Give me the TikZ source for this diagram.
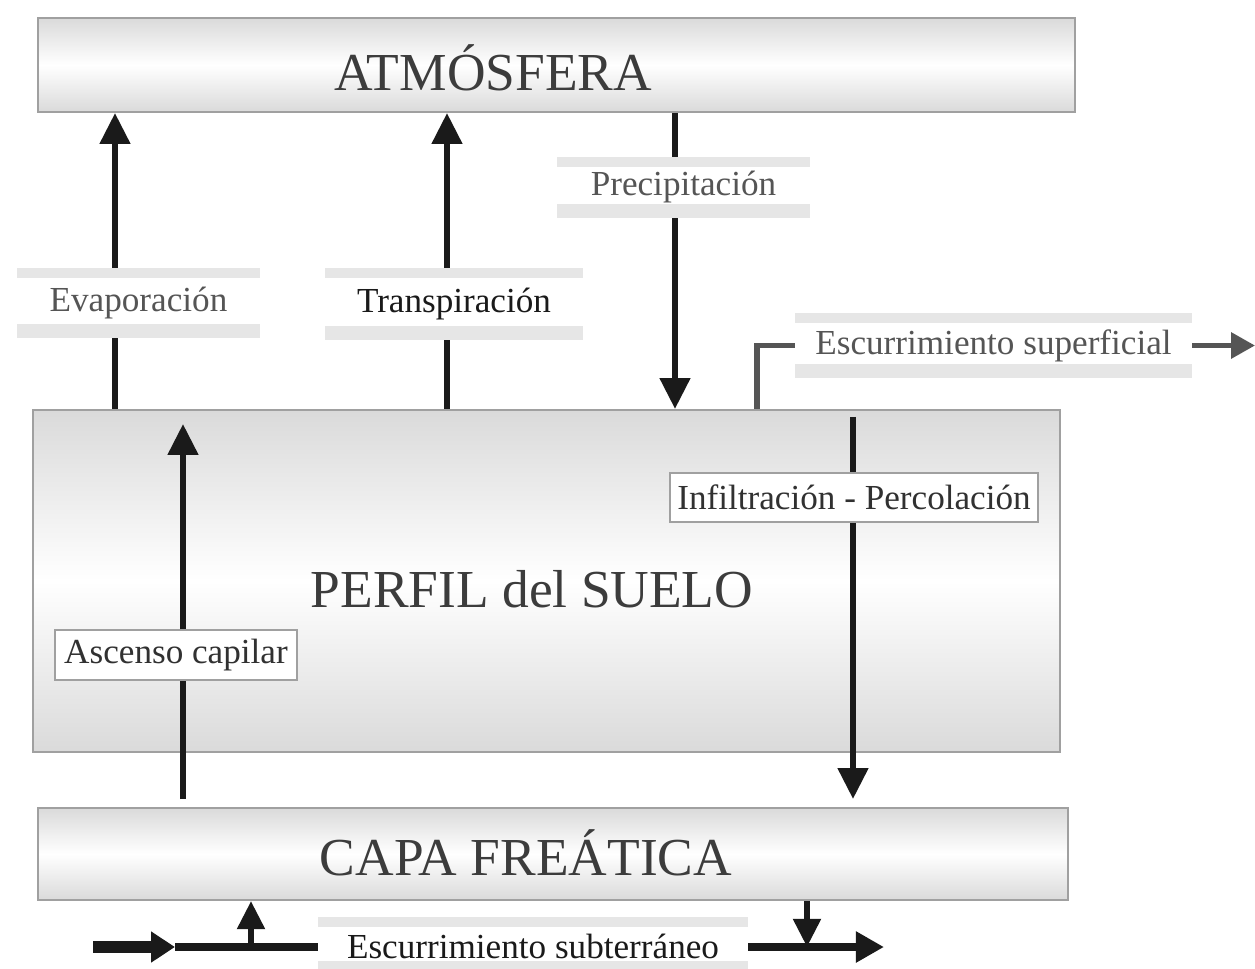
\documentclass[tikz,border=0pt]{standalone}
\usepackage{fontspec}
\setmainfont{Liberation Serif}
\usepackage{tikz}
\usepackage{xcolor}
\usetikzlibrary{arrows.meta,positioning,calc}
\definecolor{ink}     {HTML}{1A1A1A}
\definecolor{inkgray} {HTML}{555555}
\definecolor{rim}     {HTML}{A0A0A0}
\definecolor{shade}   {HTML}{DADADA}
\definecolor{stripe}  {HTML}{E6E6E6}
\tikzset{
  layer/.style    ={draw=rim, line width=1.4pt, top color=shade,
                    bottom color=shade, middle color=white, inner sep=0pt},
  title/.style    ={font=\fontsize{38}{40}\selectfont, text=ink!85},
  band/.style     ={fill=white, inner sep=0pt, font=\fontsize{25}{28}\selectfont,
                    path picture={
                      \fill[stripe] (path picture bounding box.north west)
                        rectangle ([yshift=-0.25cm]path picture bounding box.north east);
                      \fill[stripe] (path picture bounding box.south west)
                        rectangle ([yshift=0.35cm]path picture bounding box.south east);}},
  tag/.style      ={draw=rim, fill=white, line width=1.2pt, inner sep=0pt,
                    font=\fontsize{25}{28}\selectfont, text=ink!90},
  flow/.style     ={-{Triangle[length=22pt,width=21pt]}, line width=4.3pt, color=ink},
  flowline/.style ={line width=4.3pt, color=ink},
  gflow/.style    ={line width=3.6pt, color=inkgray},
  fat/.style      ={-{Triangle[length=17pt,width=21pt]}, line width=9pt, color=ink},
}
\begin{document}
\begin{tikzpicture}[x=0.025cm,y=-0.025cm]
  \useasboundingbox[fill=white] (0,0) rectangle (1255,968);

  % main layers
  \node[layer,minimum width=25.925cm,minimum height=2.35cm] (atm) at (556.5,65) {};
  \node[title,anchor=base] (atmtxt) at (493,90) {ATMÓSFERA};
  \node[layer,minimum width=25.675cm,minimum height=8.55cm] (perf) at (546.5,581) {};
  \node[title,anchor=base] (perftxt) at (532,607) {PERFIL del SUELO};
  \node[layer,minimum width=25.75cm,minimum height=2.3cm] (cap) at (553,854) {};
  \node[title,anchor=base] (captxt) at (526,875) {CAPA FREÁTICA};

  % flow labels
  \node[band,minimum width=6.075cm,minimum height=1.75cm,text=inkgray] (evap) at (138.5,303) {Evaporación};
  \node[band,minimum width=6.45cm,minimum height=1.8cm,text=ink] (trans) at (454,304) {Transpiración};
  \node[band,minimum width=6.325cm,minimum height=1.525cm,text=inkgray] (prec) at (683.5,187.5) {Precipitación};
  \node[band,minimum width=9.925cm,minimum height=1.625cm,text=inkgray] (esup) at (993.5,345.5) {Escurrimiento superficial};
  \node[band,minimum width=10.75cm,minimum height=1.45cm,text=ink] (esub) at (533,946) {Escurrimiento subterráneo};
  \node[tag,minimum width=9.2cm,minimum height=1.225cm] (infil) at (854,497.5) {Infiltración - Percolación};
  \node[tag,minimum width=6.05cm,minimum height=1.25cm] (asc) at (176,655) {Ascenso capilar};

  % x positions of the flows
  \coordinate (xev) at (115,0);
  \coordinate (xtr) at (447,0);
  \coordinate (xpr) at (675,0);
  \coordinate (xsu) at (757,0);
  \coordinate (xin) at (853,0);
  \coordinate (xas) at (183,0);
  \coordinate (xup) at (251,0);
  \coordinate (xdn) at (807,0);
  \coordinate (bin) at (93,947);
  \coordinate (bmid) at (175,947);
  \coordinate (bout) at (884,947);
  \coordinate (sout) at (1255,345.5);

  % vertical flows
  \draw[flowline] (xev |- perf.north) -- (xev |- evap.south);
  \draw[flow] (xev |- evap.north) -- (xev |- atm.south);
  \draw[flowline] (xtr |- perf.north) -- (xtr |- trans.south);
  \draw[flow] (xtr |- trans.north) -- (xtr |- atm.south);
  \draw[flowline] (xpr |- atm.south) -- (xpr |- prec.north);
  \draw[flow] (xpr |- prec.south) -- (xpr |- perf.north);
  \draw[flowline,shorten <=0.2cm] (xin |- perf.north) -- (xin |- infil.north);
  \draw[flow,shorten >=0.2cm] (xin |- infil.south) -- (xin |- cap.north);
  \draw[flowline,shorten <=0.2cm] (xas |- cap.north) -- (xas |- asc.south);
  \draw[flow,shorten >=0.375cm] (xas |- asc.north) -- (xas |- perf.north);

  % surface runoff
  \draw[gflow] (xsu |- perf.north) |- (esup.west);
  \draw[gflow,-{Triangle[length=17pt,width=18pt]}] (esup.east) -- (sout);

  % groundwater runoff
  \draw[fat] (bin) -- (bmid);
  \draw[flowline,line width=5.5pt] (bmid) -- (bmid -| esub.west);
  \draw[flowline,line width=5.5pt,-{Triangle[length=20pt,width=21pt]}] (bout -| esub.east) -- (bout);
  \draw[flow,-{Triangle[length=20pt,width=19pt]}] (xup |- bmid) -- (xup |- cap.south);
  \draw[flow,-{Triangle[length=20pt,width=19pt]}] (xdn |- cap.south) -- (xdn |- bout);
\end{tikzpicture}
\end{document}
